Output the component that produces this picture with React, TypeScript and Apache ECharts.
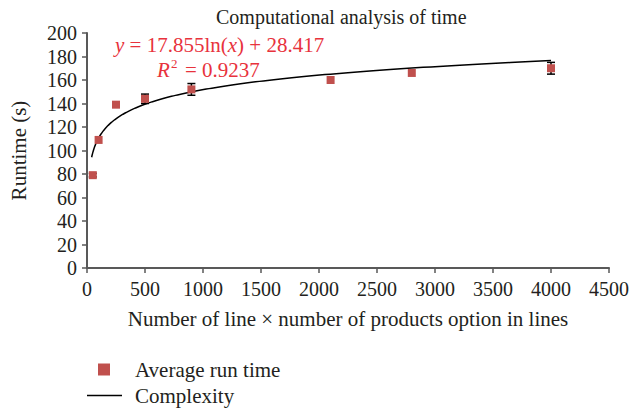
import React, { useEffect, useRef } from "react";
import * as echarts from "echarts";

const xValues = [50, 100, 250, 500, 900, 2100, 2800, 4000];
const yValues = [79, 109, 139, 144, 152, 160, 166, 170];
const errValues = [1.5, 0, 0, 4, 5, 0, 0, 5];
const fitSlope = 17.855;
const fitIntercept = 28.417;
const fitRange = [40, 4000];
const titleText = "Computational analysis of time";
const xAxisName = "Number of line \u00d7 number of products option in lines";
const yAxisName = "Runtime (s)";
const seriesNames = ["Average run time", "Complexity"];

const FONT = "'Liberation Serif', 'DejaVu Serif', serif";
const TEXT = "#231f20";
const RED = "#e8323c";
const MARK = "#c0504d";
const AXIS = "#595959";

export default function App() {
  const ref = useRef<HTMLDivElement>(null);
  useEffect(() => {
    if (!ref.current) return;
    const chart = echarts.init(ref.current, undefined, { renderer: "svg" });
    const pts = xValues.map((x, i) => [x, yValues[i]]);
    const errs = xValues
      .map((x, i) => [x, yValues[i] - errValues[i], yValues[i] + errValues[i]])
      .filter((_, i) => errValues[i] > 0);
    const curve: number[][] = [];
    const n = 200;
    for (let k = 0; k <= n; k++) {
      const lx = Math.log(fitRange[0]) + (Math.log(fitRange[1]) - Math.log(fitRange[0])) * (k / n);
      const x = Math.exp(lx);
      curve.push([x, fitSlope * Math.log(x) + fitIntercept]);
    }
    chart.setOption({
      animation: false,
      backgroundColor: "#fff",
      title: {
        text: titleText,
        left: 216,
        top: 7,
        padding: 0,
        textStyle: { fontFamily: FONT, fontSize: 20, fontWeight: "normal", color: TEXT },
      },
      grid: { left: 87, right: 20, top: 33, bottom: 143 },
      xAxis: {
        type: "value",
        min: 0,
        max: 4500,
        interval: 500,
        name: xAxisName,
        nameLocation: "middle",
        nameGap: 40,
        nameTextStyle: { fontFamily: FONT, fontSize: 21, color: TEXT },
        axisLine: { lineStyle: { color: AXIS, width: 2 } },
        axisTick: { inside: false, length: 5, lineStyle: { color: AXIS, width: 1.5 } },
        axisLabel: {
          fontFamily: FONT,
          fontSize: 20,
          color: TEXT,
          margin: 11,
          formatter: (v: number) => String(v),
        },
        splitLine: { show: false },
      },
      yAxis: {
        type: "value",
        min: 0,
        max: 200,
        interval: 20,
        name: yAxisName,
        nameLocation: "middle",
        nameGap: 58,
        nameTextStyle: { fontFamily: FONT, fontSize: 21, color: TEXT },
        axisLine: { show: true, lineStyle: { color: AXIS, width: 2 } },
        axisTick: { show: true, inside: false, length: 5, lineStyle: { color: AXIS, width: 1.5 } },
        axisLabel: { fontFamily: FONT, fontSize: 20, color: TEXT, margin: 10 },
        splitLine: { show: false },
      },
      legend: [
        {
          data: [{ name: seriesNames[0], icon: "rect" }],
          left: 98,
          top: 359,
          padding: 0,
          itemWidth: 12,
          itemHeight: 12,
          textStyle: { fontFamily: FONT, fontSize: 21, color: TEXT, padding: [0, 0, 0, 20] },
        },
        {
          data: [{ name: seriesNames[1], icon: "rect" }],
          left: 87,
          top: 385,
          padding: 0,
          itemWidth: 35,
          itemHeight: 1.5,
          itemStyle: { color: "#000" },
          textStyle: { fontFamily: FONT, fontSize: 21, color: TEXT, padding: [0, 0, 0, 8] },
        },
      ],
      graphic: [
        {
          type: "text",
          x: 115,
          y: 45,
          style: {
            text: "{i|y}{n| = 17.855ln(}{i|x}{n|) + 28.417}",
            fill: RED,
            font: `21px ${FONT}`,
            lineHeight: 19,
            verticalAlign: "middle",
            rich: {
              n: { fontFamily: FONT, fontSize: 21, fill: RED, lineHeight: 19 },
              i: { fontStyle: "italic", fontFamily: FONT, fontSize: 21, fill: RED, lineHeight: 19 },
            },
          },
        },
        {
          type: "text",
          x: 157,
          y: 70,
          style: { text: "R", fill: RED, font: `italic 21px ${FONT}`, verticalAlign: "middle", lineHeight: 19 },
        },
        {
          type: "text",
          x: 171,
          y: 63,
          style: { text: "2", fill: RED, font: `13px ${FONT}`, verticalAlign: "middle", lineHeight: 11 },
        },
        {
          type: "text",
          x: 185,
          y: 70,
          style: { text: "= 0.9237", fill: RED, font: `21px ${FONT}`, verticalAlign: "middle", lineHeight: 19 },
        },
      ],
      series: [
        {
          type: "custom",
          name: "err",
          z: 1,
          silent: true,
          renderItem: (params: any, api: any) => {
            const x = api.value(0);
            const lo = api.coord([x, api.value(1)]);
            const hi = api.coord([x, api.value(2)]);
            const w = 4;
            const st = { stroke: "#000", lineWidth: 1.5 };
            return {
              type: "group",
              children: [
                { type: "line", shape: { x1: lo[0], y1: lo[1], x2: hi[0], y2: hi[1] }, style: st },
                { type: "line", shape: { x1: lo[0] - w, y1: lo[1], x2: lo[0] + w, y2: lo[1] }, style: st },
                { type: "line", shape: { x1: hi[0] - w, y1: hi[1], x2: hi[0] + w, y2: hi[1] }, style: st },
              ],
            };
          },
          data: errs,
        },
        {
          type: "line",
          name: seriesNames[1],
          data: curve,
          showSymbol: false,
          symbol: "none",
          smooth: false,
          z: 2,
          lineStyle: { color: "#000", width: 1.5 },
          itemStyle: { color: "#000" },
        },
        {
          type: "scatter",
          name: seriesNames[0],
          data: pts,
          symbol: "rect",
          symbolSize: 8,
          z: 3,
          itemStyle: { color: MARK, opacity: 1 },
        },
      ],
    });
    return () => chart.dispose();
  }, []);
  return <div ref={ref} style={{ position: "fixed", left: 0, top: 0, width: 632, height: 411 }} />;
}
